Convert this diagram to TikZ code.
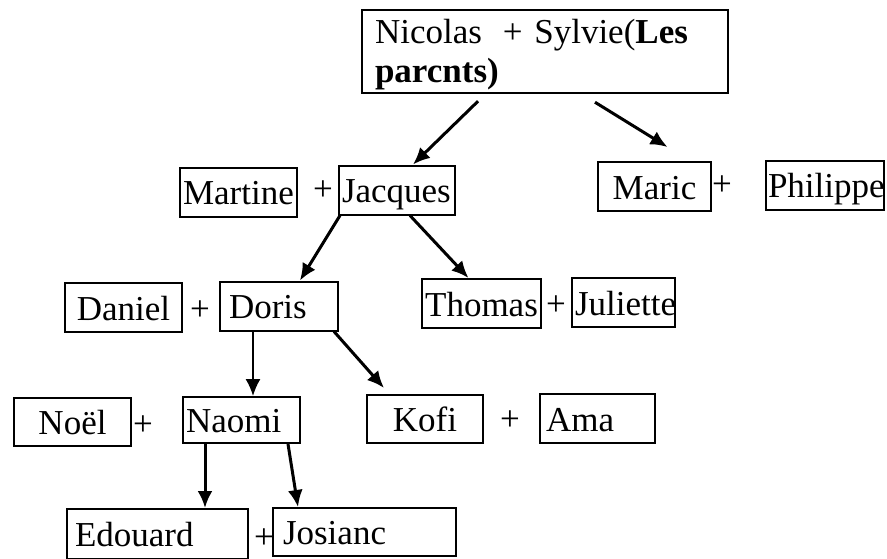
\documentclass[tikz,border=0pt]{standalone}
\usepackage{fontspec}
\setmainfont{Liberation Serif}
\usepackage{tikz}
\usetikzlibrary{arrows.meta}
\tikzstyle{person} = [
    rectangle,
    draw=black,
    line width=2pt,
    inner sep=3pt,
    minimum width=117pt,
    minimum height=49pt,
    text height=29pt,
    text depth=4pt,
    font=\fontsize{35}{39}\selectfont
]
\tikzstyle{union} = [
    inner sep=0pt,
    font=\fontsize{35}{39}\selectfont
]
\tikzstyle{arrow} = [
    line width=3pt,
    -{Latex[length=17pt,width=15pt]}
]
\tikzstyle{thinarrow} = [
    line width=1.6pt,
    -{Latex[length=17pt,width=15pt]}
]

\begin{document}
\begin{tikzpicture}[x=1pt,y=-1pt]
    \useasboundingbox (0,0) rectangle (887,558);

    \node (parents)  [person, text height=, text depth=, minimum width=366pt, minimum height=79pt, text width=340pt, align=left, inner xsep=13pt]
                                                    at (545,51.5)   {\rule{0pt}{31pt}Nicolas\hspace{0.6em}+ Sylvie(\textbf{Les}\\\textbf{parcnts)}};

    \node (martine)  [person, text width=111pt, align=left]                at (238.5,192)  {Martine};
    \node (plusA)    [union]                                               at (323,191)    {+};
    \node (jacques)  [person, minimum width=116pt, text width=110pt, align=left] at (397,190) {Jacques};
    \node (maric)    [person, minimum width=113pt]                         at (654.5,186.5) {Maric};
    \node (plusB)    [union]                                               at (722,186)    {+};
    \node (philippe) [person, minimum width=118pt, text width=114pt, align=left, inner xsep=2pt] at (825,185) {Philippe};

    \node (daniel)   [person]                                              at (123.5,307.5) {Daniel};
    \node (plusC)    [union]                                               at (200,311)    {+};
    \node (doris)    [person, minimum width=118pt, text width=100pt, align=left, inner xsep=9pt] at (279,306) {Doris};
    \node (thomas)   [person]                                              at (481.5,303.5) {Thomas};
    \node (plusD)    [union]                                               at (556,306)    {+};
    \node (juliette) [person, minimum width=103pt, text width=97pt, align=left] at (623.5,302.5) {Juliette};

    \node (noel)     [person, minimum height=48pt]                         at (72.5,422)   {Noël};
    \node (plusE)    [union]                                               at (143,426)    {+};
    \node (naomi)    [person, minimum height=46pt, text width=111pt, align=left] at (241.5,420) {Naomi};
    \node (kofi)     [person, minimum width=116pt, minimum height=48pt]    at (425,419)    {Kofi};
    \node (plusF)    [union]                                               at (510,421)    {+};
    \node (ama)      [person, minimum width=115pt, text width=103pt, align=left, inner xsep=6pt] at (597.5,418.5) {Ama};

    \node (edouard)  [person, minimum width=181pt, minimum height=50pt, text width=165pt, align=left, inner xsep=8pt] at (157.5,534) {Edouard};
    \node (plusG)    [union]                                               at (264,539)    {+};
    \node (josiane)  [person, minimum width=183pt, minimum height=48pt, text width=163pt, align=left, inner xsep=10pt] at (364.5,532) {Josianc};

    \draw [arrow]     ([xshift=-67pt,yshift=-7pt]parents.south)  --  ([xshift=16pt]jacques.north);
    \draw [arrow]     ([xshift=50pt,yshift=-8pt]parents.south)   --  ([xshift=13pt,yshift=14pt]maric.north);
    \draw [arrow]     ([xshift=2pt]jacques.south west)            --  ([xshift=21pt]doris.north);
    \draw [arrow]     ([xshift=13pt]jacques.south)                --  ([xshift=-13pt]thomas.north);
    \draw [thinarrow] ([xshift=-26pt]doris.south)                 --  ([xshift=11.5pt]naomi.north);
    \draw [arrow]     ([xshift=-5pt]doris.south east)             --  ([xshift=-41pt,yshift=6pt]kofi.north);
    \draw [arrow]     ([xshift=-36.5pt]naomi.south)               --  ([xshift=47.5pt]edouard.north);
    \draw [arrow]     ([xshift=46.5pt]naomi.south)                --  ([xshift=-66.5pt]josiane.north);

\end{tikzpicture}
\end{document}
